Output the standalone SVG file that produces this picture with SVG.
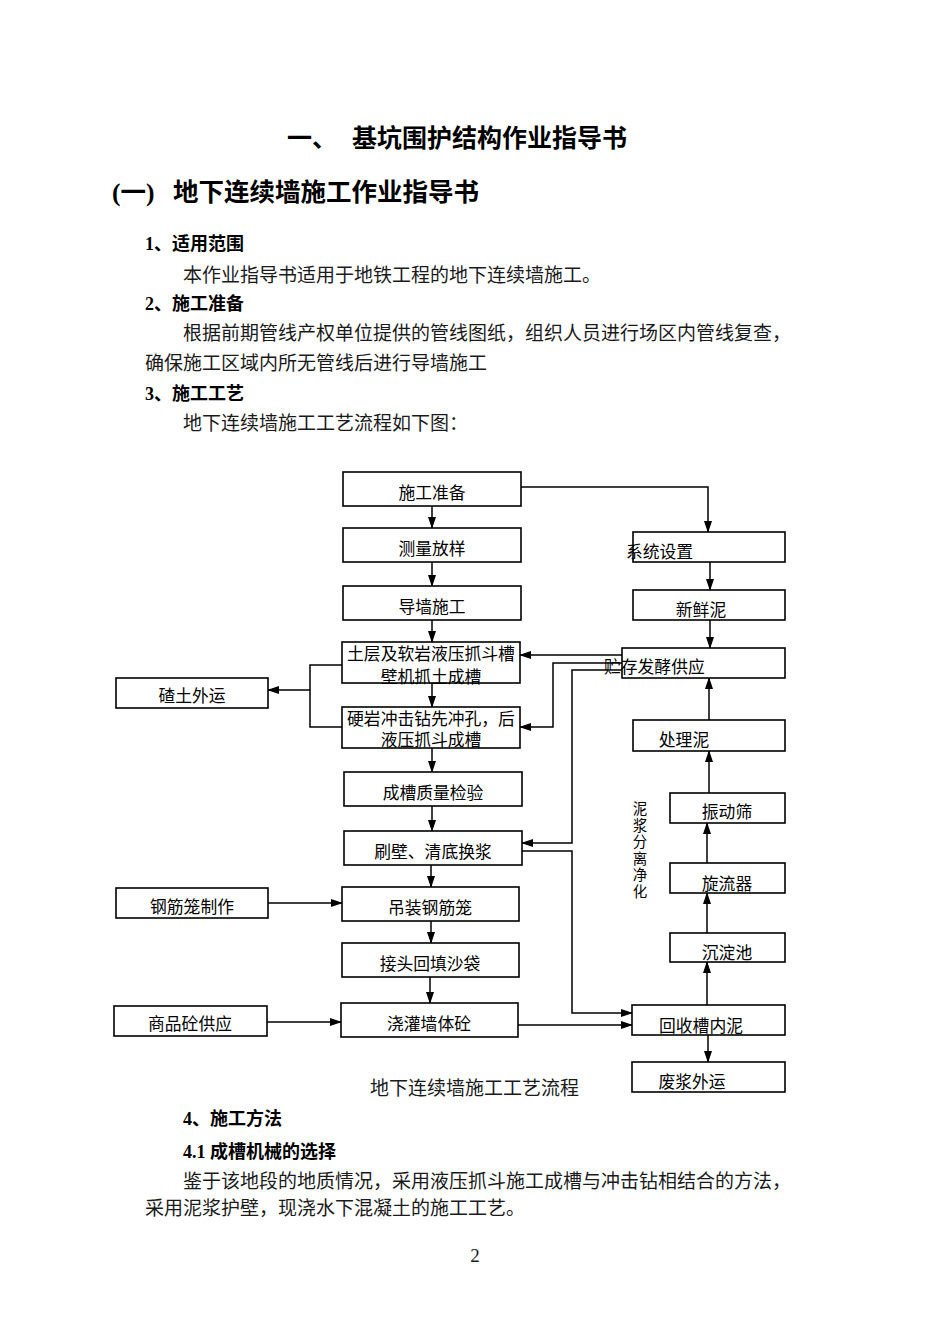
<svg xmlns="http://www.w3.org/2000/svg" width="950" height="1344" viewBox="0 0 950 1344">
<style>
.h{font-family:"Liberation Serif","Noto Sans CJK SC",serif;font-weight:bold;fill:#000}
.b{font-family:"Liberation Serif","Noto Sans CJK SC",serif;font-size:19px;fill:#1a1a1a}
.n rect{fill:#fff;stroke:#000;stroke-width:1.6}
.n text{font-family:"Liberation Sans","Noto Sans CJK SC",sans-serif;font-size:16.8px;fill:#000;text-anchor:middle}
.n text.s{text-anchor:start}
.n text.v{font-size:14.5px}
.c path{fill:none;stroke:#000;stroke-width:1.5}
.c path.a{marker-end:url(#ah)}
</style>
<defs>
<marker id="ah" markerWidth="12" markerHeight="8" refX="11" refY="4" orient="auto" markerUnits="userSpaceOnUse">
<path d="M0,0 L12,4 L0,8 Z" fill="#000"/>
</marker>
</defs>
<rect width="950" height="1344" fill="#fff"/>

<g id="page-text">
<text class="h" x="287" y="147" font-size="25">一、</text>
<text class="h" x="352" y="147" font-size="25">基坑围护结构作业指导书</text>
<text class="h" x="112" y="201" font-size="25.5">(一)</text>
<text class="h" x="173" y="201" font-size="25.5">地下连续墙施工作业指导书</text>
<text class="h" x="145" y="250" font-size="18">1、适用范围</text>
<text class="b" x="183" y="282">本作业指导书适用于地铁工程的地下连续墙施工。</text>
<text class="h" x="145" y="310" font-size="18">2、施工准备</text>
<text class="b" x="183" y="340">根据前期管线产权单位提供的管线图纸，组织人员进行场区内管线复查，</text>
<text class="b" x="145" y="370">确保施工区域内所无管线后进行导墙施工</text>
<text class="h" x="145" y="400" font-size="18">3、施工工艺</text>
<text class="b" x="183" y="430">地下连续墙施工工艺流程如下图：</text>
<text class="b" x="370" y="1095">地下连续墙施工工艺流程</text>
<text class="h" x="183" y="1125" font-size="18">4、施工方法</text>
<text class="h" x="183" y="1158" font-size="18">4.1 成槽机械的选择</text>
<text class="b" x="183" y="1188">鉴于该地段的地质情况，采用液压抓斗施工成槽与冲击钻相结合的方法，</text>
<text class="b" x="145" y="1215">采用泥浆护壁，现浇水下混凝土的施工工艺。</text>
<text class="b" x="475" y="1262" font-size="15" text-anchor="middle">2</text>
</g>

<g id="connectors" class="c">
<path class="a" d="M432,506 V528"/>
<path class="a" d="M432,562 V586"/>
<path class="a" d="M432,620 V642"/>
<path class="a" d="M432,683 V707"/>
<path class="a" d="M432,748 V772"/>
<path class="a" d="M432,806 V831"/>
<path class="a" d="M431,865 V887"/>
<path class="a" d="M431,921 V943"/>
<path class="a" d="M430,977 V1003"/>
<path d="M342,665 H310 V727 H342"/>
<path class="a" d="M310,690 H268"/>
<path class="a" d="M268,903 H342"/>
<path class="a" d="M267,1022 H341"/>
<path class="a" d="M521,487 H708 V532"/>
<path class="a" d="M710,562 V590"/>
<path class="a" d="M710,620 V648"/>
<path class="a" d="M709,720 V678"/>
<path class="a" d="M709,793 V751"/>
<path class="a" d="M707,863 V823"/>
<path class="a" d="M707,933 V893"/>
<path class="a" d="M707,1005 V962"/>
<path class="a" d="M708,1035 V1062"/>
<path class="a" d="M622,655 H520"/>
<path class="a" d="M622,663 H553 V727 H520"/>
<path class="a" d="M622,670 H572 V843 H522"/>
<path class="a" d="M522,851 H572 V1013 H632"/>
<path class="a" d="M518,1025 H632"/>
</g>

<g id="n1" class="n"><rect x="343" y="472" width="178" height="34"/><text x="432" y="499">施工准备</text></g>
<g id="n2" class="n"><rect x="343" y="528" width="178" height="34"/><text x="432" y="555">测量放样</text></g>
<g id="n3" class="n"><rect x="343" y="586" width="178" height="34"/><text x="432" y="613">导墙施工</text></g>
<g id="n4" class="n"><rect x="342" y="642" width="178" height="41"/><text x="431" y="660">土层及软岩液压抓斗槽</text><text x="431" y="683">壁机抓土成槽</text></g>
<g id="n5" class="n"><rect x="342" y="707" width="178" height="41"/><text x="431" y="725">硬岩冲击钻先冲孔，后</text><text x="431" y="746">液压抓斗成槽</text></g>
<g id="n6" class="n"><rect x="344" y="772" width="178" height="34"/><text x="433" y="799">成槽质量检验</text></g>
<g id="n7" class="n"><rect x="344" y="831" width="178" height="34"/><text x="433" y="858">刷壁、清底换浆</text></g>
<g id="n8" class="n"><rect x="342" y="887" width="177" height="34"/><text x="430" y="914">吊装钢筋笼</text></g>
<g id="n9" class="n"><rect x="342" y="943" width="177" height="34"/><text x="430" y="970">接头回填沙袋</text></g>
<g id="n10" class="n"><rect x="341" y="1003" width="177" height="34"/><text x="429" y="1030">浇灌墙体砼</text></g>
<g id="n11" class="n"><rect x="116" y="678" width="152" height="30"/><text x="192" y="702">碴土外运</text></g>
<g id="n12" class="n"><rect x="116" y="888" width="152" height="30"/><text x="192" y="913">钢筋笼制作</text></g>
<g id="n13" class="n"><rect x="114" y="1006" width="153" height="30"/><text x="190" y="1030">商品砼供应</text></g>

<g id="n14" class="n"><rect x="633" y="532" width="152" height="30"/><text class="s" x="626" y="558">系统设置</text></g>
<g id="n15" class="n"><rect x="633" y="590" width="152" height="30"/><text x="701" y="616">新鲜泥</text></g>
<g id="n16" class="n"><rect x="622" y="648" width="163" height="30"/><text class="s" x="604" y="673">贮存发酵供应</text></g>
<g id="n17" class="n"><rect x="633" y="720" width="152" height="31"/><text x="684" y="746">处理泥</text></g>
<g id="n18" class="n"><rect x="670" y="793" width="115" height="30"/><text x="727" y="818">振动筛</text></g>
<g id="n19" class="n"><rect x="670" y="863" width="115" height="30"/><text x="727" y="890">旋流器</text></g>
<g id="n20" class="n"><rect x="670" y="933" width="115" height="29"/><text x="727" y="959">沉淀池</text></g>
<g id="n21" class="n"><rect x="632" y="1005" width="153" height="30"/><text x="701" y="1032">回收槽内泥</text></g>
<g id="n22" class="n"><rect x="632" y="1062" width="153" height="30"/><text x="692" y="1088">废浆外运</text></g>
<g id="label-sep" class="n"><text class="v" x="640" y="814">泥</text><text class="v" x="640" y="830.5">浆</text><text class="v" x="640" y="847">分</text><text class="v" x="640" y="863.5">离</text><text class="v" x="640" y="880">净</text><text class="v" x="640" y="896.5">化</text></g>
</svg>
